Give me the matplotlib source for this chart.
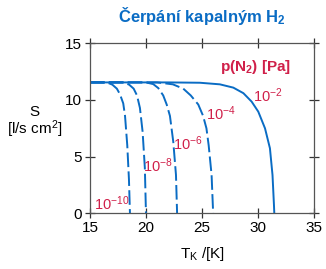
import matplotlib.pyplot as plt

plt.rcParams['font.family'] = ['Liberation Sans', 'DejaVu Sans']
plt.rcParams['mathtext.default'] = 'regular'

BLUE = '#0a6cc4'
RED = '#d0204a'

# curves: temperature T [K] and pumping speed S [l/s cm2]
t_e2 = [15, 22, 24.82, 26.6, 27.8, 28.7, 29.44, 30.03, 30.63, 31.07, 31.3, 31.43, 31.46]
s_e2 = [11.55, 11.55, 11.52, 11.38, 11.09, 10.6, 9.85, 8.97, 7.5, 5.74, 3.38, 0.73, 0]

t_e4 = [15, 21.0, 22.4, 23.33, 24.0, 24.67, 25.1, 25.4, 25.6, 25.86, 26.0]
s_e4 = [11.55, 11.55, 11.38, 11.0, 10.4, 9.6, 8.6, 7.5, 6.0, 3.38, 0]

t_e6 = [15, 20.0, 20.65, 21.1, 21.54, 21.85, 22.14, 22.44, 22.68, 22.78]
s_e6 = [11.55, 11.55, 11.4, 11.05, 10.4, 9.6, 8.6, 6.3, 3.38, 0]

t_e8 = [15, 18.0, 18.5, 18.9, 19.2, 19.46, 19.7, 19.9, 20.0]
s_e8 = [11.55, 11.55, 11.35, 11.0, 10.4, 9.3, 7.2, 4.0, 0]

t_e10 = [15, 16.5, 17.0, 17.4, 17.68, 17.97, 18.13, 18.33, 18.48, 18.57]
s_e10 = [11.55, 11.55, 11.35, 11.0, 10.5, 9.7, 8.6, 6.0, 3.0, 0]

labels = ['10$^{-2}$', '10$^{-4}$', '10$^{-6}$', '10$^{-8}$', '10$^{-10}$']
label_t = [30.9, 26.7, 23.7, 21.07, 16.9]
label_s = [10.35, 8.75, 6.16, 4.2, 0.86]

x_ticks = [15, 20, 25, 30, 35]
y_ticks = [0, 5, 10, 15]

fig = plt.figure(figsize=(3.26, 2.69), dpi=100)
ax = fig.add_axes([0.276, 0.207, 0.687, 0.632])

ax.plot(t_e2, s_e2, color=BLUE, lw=1.4)
for t, s in [(t_e4, s_e4), (t_e6, s_e6), (t_e8, s_e8), (t_e10, s_e10)]:
    ax.plot(t, s, color=BLUE, lw=1.4, dashes=(7.5, 2.2))

for lab, t, s in zip(labels, label_t, label_s):
    ax.text(t, s, lab, color=RED, fontsize=10.5, ha='center', va='center')
ax.text(29.8, 12.9, 'p(N$_2$) [Pa]', color=RED, fontsize=11, fontweight='bold',
        ha='center', va='center')

ax.set_xlim(15, 35)
ax.set_ylim(0, 15)
ax.set_xticks(x_ticks)
ax.set_yticks(y_ticks)
ax.tick_params(direction='inout', length=7, width=0.9, color='#333333',
               labelsize=11, top=True, right=True, pad=2)
for sp in ax.spines.values():
    sp.set_color('#555555')
    sp.set_linewidth(0.9)

ax.set_title('Čerpání kapalným H$_2$', color=BLUE, fontsize=12,
             fontweight='bold', pad=15)
fig.text(0.622, 0.055, 'T$_K$ /[K]', fontsize=11, ha='center', va='center')
fig.text(0.107, 0.585, 'S', fontsize=11, ha='center', va='center')
fig.text(0.107, 0.518, '[l/s cm$^2$]', fontsize=11, ha='center', va='center')

fig.savefig('out.png', dpi=100)
